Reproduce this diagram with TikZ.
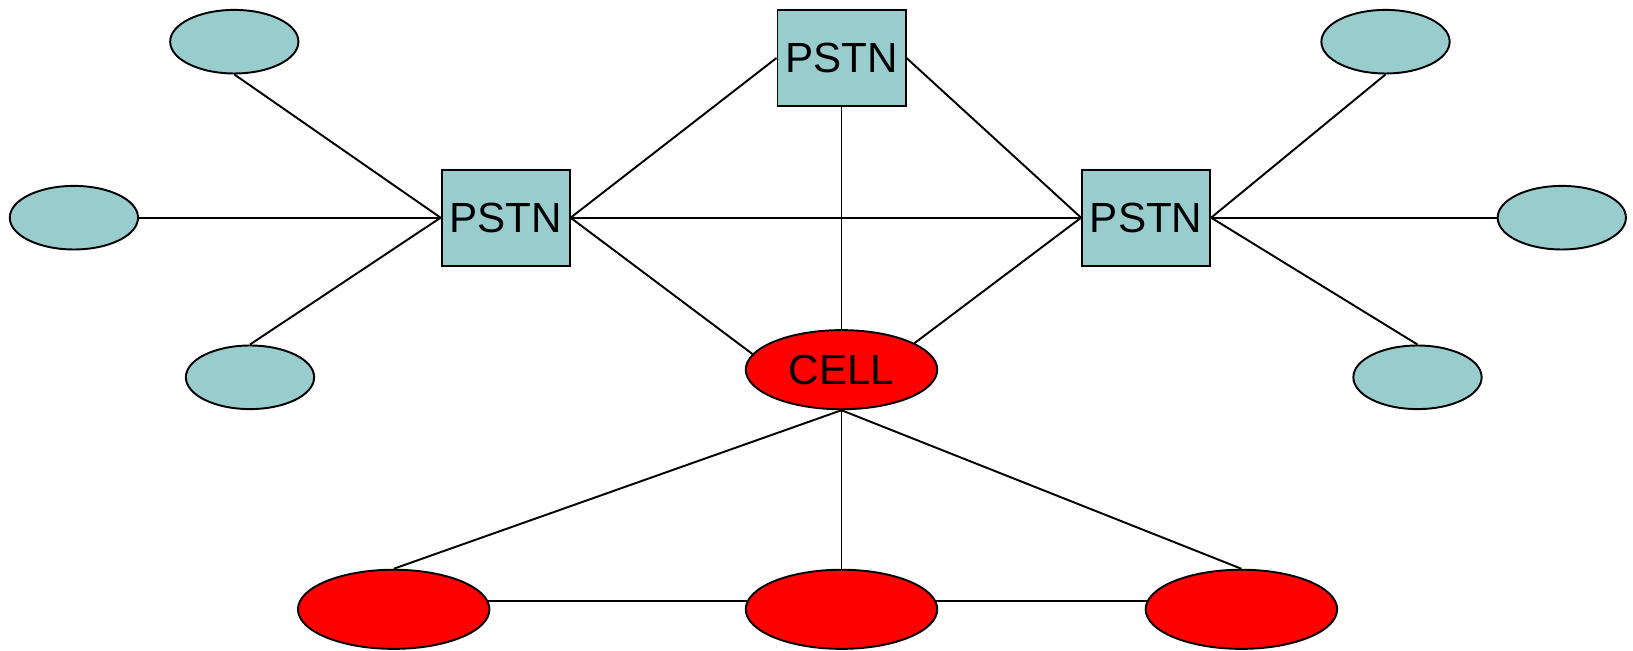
\documentclass[tikz,border=0pt]{standalone}
\usepackage{fontspec}
\setmainfont{Liberation Sans}
\usepackage{tikz}
\usetikzlibrary{shapes}

\definecolor{phonecol}{HTML}{99CCCC}

\tikzset{
	pstn/.style={rectangle, draw, line width=1.1pt, fill=phonecol, minimum width=2.562cm, minimum height=1.916cm, inner sep=0pt, font=\fontsize{24}{28}\selectfont},
	phone/.style={ellipse, draw, line width=1.1pt, fill=phonecol, minimum width=2.566cm, minimum height=1.272cm, inner sep=0pt},
	mobile/.style={ellipse, draw, line width=1.1pt, fill=red, minimum width=3.83cm, minimum height=1.583cm, inner sep=0pt, font=\fontsize{24}{28}\selectfont},
	link/.style={line width=1.1pt}
}

\begin{document}
\begin{tikzpicture}[x=0.02cm, y=-0.02cm]
				\useasboundingbox (0,0) rectangle (1633,651);
				
				\node[pstn] (PT) at (841.5,58) {PSTN};
				\node[pstn] (PL) at (505.6,217.7) {PSTN};
				\node[pstn] (PR) at (1146.1,217.7) {PSTN};
				\node[mobile] (C) at (841.5,369.7) {CELL};
				
				\node[phone] (L1) at (234.3,41.7) {};
				\node[phone] (L2) at (73.9,217.7) {};
				\node[phone] (L3) at (250,377.3) {};
				\node[phone] (R1) at (1385.5,41.7) {};
				\node[phone] (R2) at (1561.8,217.7) {};
				\node[phone] (R3) at (1417.5,377.3) {};
				
				\node[mobile] (B1) at (393.7,609.3) {};
				\node[mobile] (B2) at (841.5,609.3) {};
				\node[mobile] (B3) at (1241.4,609.3) {};
				
				\draw[link] (L1.south) -- (PL.west);
				\draw[link] (L2.east) -- (PL.west);
				\draw[link] (L3.north) -- (PL.west);
				\draw[link] (R1.south) -- (PR.east);
				\draw[link] (R2.west) -- (PR.east);
				\draw[link] (R3.north) -- (PR.east);
				
				\draw[link] (PL.east) -- (PT.west);
				\draw[link] (PL.east) -- (PR.west);
				\draw[link] (PL.east) -- (C.170);
				\draw[link] (PT.east) -- (PR.west);
				\draw[link] (PT.south) -- (C.north);
				\draw[link] (PR.west) -- (C.20);
				
				\draw[link] (C.south) -- (B1.north);
				\draw[link] (C.south) -- (B2.north);
				\draw[link] (C.south) -- (B3.north);
				\draw[link] (B1.5) -- (B2.175);
				\draw[link] (B2.5) -- (B3.175);
			\end{tikzpicture}
\end{document}
